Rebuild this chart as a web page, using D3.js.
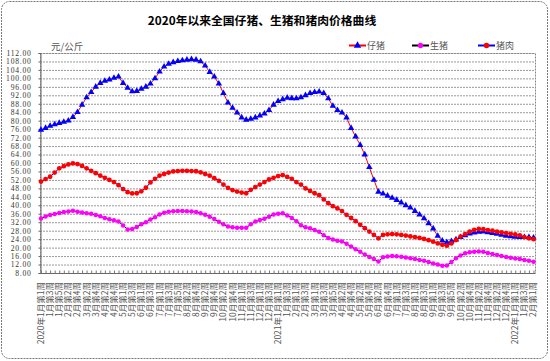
<!DOCTYPE html>
<html><head><meta charset="utf-8">
<script src="https://cdn.jsdelivr.net/npm/d3@7/dist/d3.min.js"></script>
<style>
html,body{margin:0;padding:0;background:#fff;}
svg{display:block;}
</style></head>
<body>
<svg id="chart" width="550" height="361"></svg>
<script>
const title = "2020年以来全国仔猪、生猪和猪肉价格曲线";
const unitLabel = "元/公斤";
const seriesNames = ["仔猪", "生猪", "猪肉"];

const piglet = [75.6,76.5,77.5,78.2,78.9,79.4,80.0,81.7,84.0,87.5,91.0,93.5,96.0,97.8,98.8,99.4,100.2,100.8,97.8,95.5,
93.8,94.0,95.0,96.0,97.5,100.0,103.2,105.5,106.8,107.6,108.1,108.5,108.8,109.0,108.8,108.0,106.0,103.0,100.8,97.5,
93.0,88.5,86.0,83.8,81.5,80.4,80.8,81.5,82.4,83.3,85.0,87.5,89.2,90.1,90.8,90.6,90.5,91.0,92.0,93.0,
93.5,93.7,93.0,90.5,87.0,85.0,83.8,81.5,76.5,72.5,68.5,64.0,58.0,52.0,46.4,45.5,44.5,43.5,42.5,41.3,
40.0,38.9,37.3,35.6,33.8,31.5,29.0,25.5,23.3,22.5,23.0,23.8,24.9,25.8,26.6,27.1,27.4,27.5,27.2,26.9,
26.5,26.0,25.6,25.3,25.1,24.9,24.9,24.9,24.7];

const hog = [33.8,34.7,35.4,35.9,36.4,36.8,37.1,37.4,37.0,36.6,36.3,36.0,35.4,34.8,34.0,33.4,32.9,32.3,30.5,28.6,
28.8,29.8,31.0,32.0,33.3,34.4,35.6,36.5,37.0,37.2,37.3,37.3,37.2,37.1,36.8,36.3,35.5,34.6,33.5,32.2,
31.0,30.0,29.6,29.4,29.4,29.4,31.0,32.3,33.0,33.7,34.6,35.6,36.0,36.2,35.2,34.0,32.5,30.6,29.6,29.1,
28.3,27.5,25.8,24.6,23.8,23.2,22.9,21.8,20.5,19.2,18.0,16.8,15.6,14.6,13.4,15.4,15.8,16.0,15.9,15.7,
15.3,15.0,14.6,14.2,13.8,13.2,12.5,12.0,11.4,11.6,13.2,15.0,16.3,17.3,17.8,18.1,18.2,18.0,17.4,17.0,
16.5,16.0,15.6,15.2,14.9,14.6,14.2,13.8,13.3];

const pork = [51.2,52.4,53.5,55.5,57.5,58.5,59.3,59.8,59.5,58.6,57.5,56.3,55.2,54.0,53.0,52.0,51.0,49.5,47.7,46.2,
45.6,45.7,46.6,48.3,50.8,52.5,54.0,54.8,55.5,56.0,56.2,56.3,56.3,56.2,56.1,55.6,54.8,54.0,52.8,51.6,
49.8,48.2,47.2,46.5,46.0,45.7,47.3,48.6,49.8,51.0,52.2,53.0,53.8,54.3,53.4,52.5,51.0,49.8,48.0,46.8,
45.7,44.8,42.8,41.0,39.6,38.5,37.3,35.5,34.0,32.5,30.8,29.2,27.6,26.0,24.4,26.0,26.3,26.4,26.3,26.0,
25.7,25.3,25.0,24.6,24.1,23.5,22.8,22.0,21.3,20.9,22.0,23.6,25.2,26.4,27.6,28.4,28.8,28.7,28.3,28.0,
27.6,27.2,26.9,26.5,26.2,25.8,25.0,24.4,24.0];

// labels shown on every second week
const tickLabels = ["2020年1月第1周","1月第3周","1月第5周","2月第2周","2月第4周","3月第2周","3月第4周","4月第2周","4月第4周","5月第1周",
"5月第3周","6月第1周","6月第3周","7月第1周","7月第3周","7月第5周","8月第2周","8月第4周","9月第2周","9月第4周",
"10月第2周","10月第4周","11月第1周","11月第3周","12月第1周","12月第3周","2021年1月第1周","1月第3周","2月第1周","2月第3周",
"3月第1周","3月第3周","3月第5周","4月第2周","4月第4周","5月第2周","5月第4周","6月第2周","6月第4周","7月第1周",
"7月第3周","8月第1周","8月第3周","9月第1周","9月第3周","9月第5周","10月第2周","10月第4周","11月第2周","11月第4周",
"12月第2周","12月第4周","2022年1月第1周","1月第3周","2月第1周"];

const yTicks = [8,12,16,20,24,28,32,36,40,44,48,52,56,60,64,68,72,76,80,84,88,92,96,100,104,108,112];

const svg = d3.select("#chart");
const L = 40, R = 535, T = 53, B = 273;
const n = piglet.length;

const x = d3.scalePoint().domain(d3.range(n)).range([41, 533.5]);
const y = d3.scaleLinear().domain([8, 112]).range([B, T]);

// outer border
svg.append("rect").attr("x", 1.5).attr("y", 1.5).attr("width", 546).attr("height", 357)
  .attr("rx", 8).attr("fill", "#fff").attr("stroke", "#777").attr("stroke-dasharray", "2,1");

// title
svg.append("text").attr("x", 262).attr("y", 25).attr("text-anchor", "middle")
  .attr("font-family", "Noto Sans CJK SC").attr("font-weight", "bold").attr("font-size", 11.8)
  .attr("fill", "#000").text(title);

svg.append("text").attr("x", 51).attr("y", 49.5)
  .attr("font-family", "Noto Sans CJK SC").attr("font-size", 9.5).attr("fill", "#555").text(unitLabel);

// grid lines
svg.append("g").selectAll("line").data(yTicks.filter(v => v !== 8)).join("line")
  .attr("x1", L).attr("x2", R).attr("y1", d => y(d) + 0.5).attr("y2", d => y(d) + 0.5)
  .attr("stroke", "#999").attr("stroke-dasharray", "2,1");

// plot border
svg.append("rect").attr("x", L + 0.5).attr("y", T + 0.5).attr("width", R - L).attr("height", B - T)
  .attr("fill", "none").attr("stroke", "#888").attr("stroke-dasharray", "2,1");

// y axis
const yAxis = d3.axisLeft(y).tickValues(yTicks).tickFormat(d3.format(".2f")).tickSize(2).tickPadding(7);
const gy = svg.append("g").attr("transform", `translate(${L + 0.5},0)`).call(yAxis);
gy.select(".domain").attr("stroke", "#666");
gy.selectAll(".tick line").attr("stroke", "#666");
gy.selectAll(".tick text").attr("font-family", "Liberation Serif").attr("font-size", 7.6)
  .attr("letter-spacing", "0.75px").attr("fill", "#333");

// x axis
const xAxis = d3.axisBottom(x).tickSize(-3).tickFormat("");
const gx = svg.append("g").attr("transform", `translate(0,${B + 0.5})`).call(xAxis);
gx.select(".domain").attr("stroke", "#666").attr("d", `M${L},0H${R}`);
gx.selectAll(".tick line").attr("stroke", "#777");

// x labels
const labelIdx = d3.range(0, n, 2);
svg.append("g").selectAll("text").data(labelIdx).join("text")
  .attr("transform", (d) => `translate(${x(d)},282) rotate(-90)`)
  .attr("text-anchor", "end").attr("dy", "0.35em")
  .attr("font-family", "Noto Sans CJK SC").attr("font-size", 8.5).attr("fill", "#555")
  .text((d, i) => tickLabels[i]);

// series
const series = [
  {name: seriesNames[0], data: piglet, line: "#ff0000", mark: "#0000ff", sym: d3.symbolTriangle, size: 18},
  {name: seriesNames[1], data: hog, line: "#000000", mark: "#ff00ff", sym: d3.symbolCircle, size: 16},
  {name: seriesNames[2], data: pork, line: "#0000ff", mark: "#ff0000", sym: d3.symbolCircle, size: 18}
];
const lineGen = d3.line().x((d, i) => x(i)).y(d => y(d));

series.forEach(s => {
  const g = svg.append("g");
  g.append("path").datum(s.data).attr("d", lineGen).attr("fill", "none").attr("stroke", s.line).attr("stroke-width", 1);
  g.selectAll("path.m").data(s.data).join("path").attr("class", "m")
    .attr("transform", (d, i) => `translate(${x(i)},${y(d)})`)
    .attr("d", d3.symbol(s.sym, s.size)).attr("fill", s.mark);
});

// legend
const legendPos = [349, 412, 478];
series.forEach((s, i) => {
  const lx = legendPos[i];
  const g = svg.append("g");
  g.append("line").attr("x1", lx).attr("x2", lx + 17).attr("y1", 45.5).attr("y2", 45.5)
    .attr("stroke", s.line).attr("stroke-width", 2);
  g.append("path").attr("transform", `translate(${lx + 8.5},45.5)`)
    .attr("d", d3.symbol(s.sym, s.size + 6)).attr("fill", s.mark);
  g.append("text").attr("x", lx + 18).attr("y", 49).attr("font-family", "Noto Sans CJK SC")
    .attr("font-size", 9).attr("fill", "#555").text(s.name);
});
</script>
</body></html>
